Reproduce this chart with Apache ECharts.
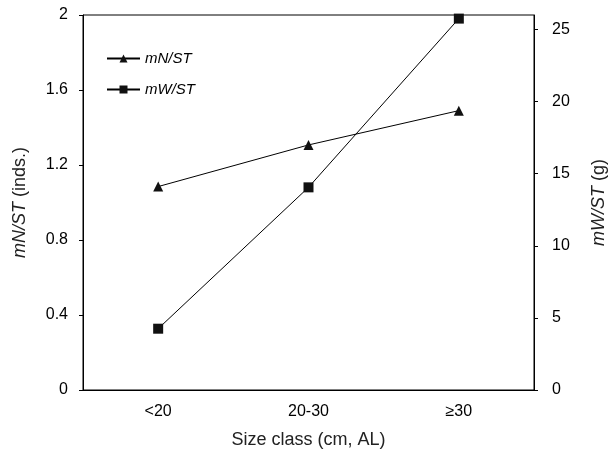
<!DOCTYPE html>
<html><head><meta charset="utf-8">
<script src="https://cdn.jsdelivr.net/npm/echarts@6/dist/echarts.min.js"></script>
<style>html,body{margin:0;padding:0;background:#fff}#c{width:616px;height:457px}</style>
</head><body><div id="c"></div>
<script>
const categories = ['<20', '20-30', '≥30'];
const mN = [1.085, 1.307, 1.49];
const mW = [4.25, 14.05, 25.75];
const leftTicks = [0, 0.4, 0.8, 1.2, 1.6, 2];
const rightTicks = [0, 5, 10, 15, 20, 25];

const font = 'Liberation Sans, Arial, sans-serif';
const chart = echarts.init(document.getElementById('c'));
const richName = { i: { fontStyle: 'italic', fontSize: 18, color: '#222', fontFamily: font } };
chart.setOption({
  animation: false,
  backgroundColor: '#fff',
  textStyle: { fontFamily: font },
  grid: { left: 83, right: 77, top: 15, bottom: 67, show: true, borderColor: '#000', borderWidth: 1 },
  legend: {
    orient: 'vertical', left: 101, top: 46, itemWidth: 33, itemHeight: 10, itemGap: 16,
    textStyle: { fontStyle: 'italic', fontSize: 15, color: '#000', fontFamily: font },
    data: ['mN/ST', 'mW/ST']
  },
  xAxis: {
    type: 'category', data: categories, boundaryGap: true,
    axisLine: { lineStyle: { color: '#000', width: 1 } },
    axisTick: { inside: true, length: 5, lineStyle: { color: '#000' } },
    axisLabel: { color: '#000', fontSize: 16, margin: 14, fontFamily: font },
    name: 'Size class (cm, AL)', nameLocation: 'middle', nameGap: 41,
    nameTextStyle: { color: '#222', fontSize: 18, fontFamily: font }
  },
  yAxis: [{
    type: 'value', min: 0, max: 2, interval: 0.4, position: 'left',
    splitLine: { show: false },
    axisLine: { show: true, lineStyle: { color: '#000' } },
    axisTick: { show: true, length: 4, lineStyle: { color: '#000' } },
    axisLabel: { color: '#000', fontSize: 16, margin: 15, fontFamily: font,
      formatter: v => (leftTicks.indexOf(+v.toFixed(1)) >= 0 ? String(+v.toFixed(1)) : '') },
    name: '{i|mN/ST} (inds.)', nameLocation: 'middle', nameGap: 54, nameRotate: 90,
    nameTextStyle: { color: '#222', fontSize: 18, fontFamily: font, rich: richName }
  }, {
    type: 'value', min: 0, max: 26, interval: 5, position: 'right',
    splitLine: { show: false },
    axisLine: { show: true, lineStyle: { color: '#000' } },
    axisTick: { show: true, length: 4, lineStyle: { color: '#000' } },
    axisLabel: { color: '#000', fontSize: 16, margin: 18, fontFamily: font, showMaxLabel: false,
      formatter: v => (rightTicks.indexOf(v) >= 0 ? String(v) : '') },
    name: '{i|mW/ST} (g)', nameLocation: 'middle', nameGap: 56, nameRotate: 90,
    nameTextStyle: { color: '#222', fontSize: 18, fontFamily: font, rich: richName }
  }],
  series: [{
    name: 'mN/ST', type: 'line', yAxisIndex: 0, data: mN,
    symbol: 'triangle', symbolSize: 10,
    lineStyle: { color: '#000', width: 1 }, itemStyle: { color: '#111' }
  }, {
    name: 'mW/ST', type: 'line', yAxisIndex: 1, data: mW,
    symbol: 'rect', symbolSize: 10,
    lineStyle: { color: '#000', width: 1 }, itemStyle: { color: '#111' }
  }]
});
</script></body></html>
